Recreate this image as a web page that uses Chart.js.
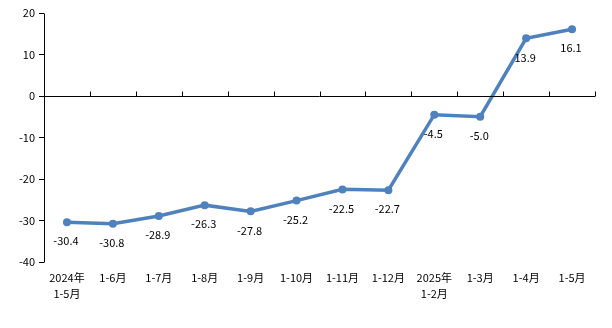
<!DOCTYPE html>
<html>
<head>
<meta charset="utf-8">
<script src="https://cdn.jsdelivr.net/npm/chart.js@4/dist/chart.umd.min.js"></script>
<style>
  html, body { margin: 0; padding: 0; background: #fff; }
  #wrap { width: 612px; height: 328px; }
</style>
</head>
<body>
<div id="wrap"><canvas id="growthChart"></canvas></div>
<script>
  'use strict'

  const months = [
    ['2024年', '1-5月'], '1-6月', '1-7月', '1-8月', '1-9月', '1-10月',
    '1-11月', '1-12月', ['2025年', '1-2月'], '1-3月', '1-4月', '1-5月'
  ]
  const growth = [-30.4, -30.8, -28.9, -26.3, -27.8, -25.2, -22.5, -22.7, -4.5, -5.0, 13.9, 16.1]
  const yTicks = [20, 10, 0, -10, -20, -30, -40]

  const FONT = '"Noto Sans CJK SC", "Noto Sans", sans-serif'

  // y axis line, zero line with upward ticks between categories, value labels
  const extras = {
    id: 'extras',
    afterDatasetsDraw (chart) {
      const { ctx, scales: { x, y } } = chart
      const y0 = Math.round(y.getPixelForValue(0)) + 0.5
      const yTop = Math.round(y.getPixelForValue(20)) + 0.5
      const yBot = Math.round(y.getPixelForValue(-40)) + 0.5
      const xl = Math.round(x.left) + 0.5
      ctx.save()
      ctx.lineWidth = 1
      ctx.strokeStyle = '#000'
      ctx.beginPath()
      ctx.moveTo(xl, yTop)
      ctx.lineTo(xl, yBot)
      ctx.stroke()
      ctx.beginPath()
      ctx.moveTo(x.left, y0)
      ctx.lineTo(x.right, y0)
      for (let i = 1; i <= months.length; i++) {
        const px = Math.round(x.getPixelForValue(i - 0.5)) + 0.5
        ctx.moveTo(px, y0)
        ctx.lineTo(px, y0 - 5)
      }
      ctx.stroke()

      const meta = chart.getDatasetMeta(0)
      ctx.fillStyle = '#000'
      ctx.font = '11px ' + FONT
      ctx.textAlign = 'center'
      ctx.textBaseline = 'middle'
      meta.data.forEach((pt, i) => {
        ctx.fillText(growth[i].toFixed(1), pt.x - 1, pt.y + 19)
      })
      ctx.restore()
    }
  }

  new Chart(document.getElementById('growthChart'), {
    type: 'line',
    data: {
      labels: months,
      datasets: [{
        data: growth,
        borderColor: '#4f81bd',
        backgroundColor: '#4f81bd',
        borderWidth: 3.5,
        pointRadius: 4,
        pointBackgroundColor: '#4f81bd',
        pointBorderWidth: 0,
        tension: 0
      }]
    },
    options: {
      responsive: true,
      maintainAspectRatio: false,
      animation: false,
      layout: { padding: { top: 13, right: 17, bottom: 0, left: 0 } },
      plugins: {
        legend: { display: false },
        tooltip: { enabled: false }
      },
      scales: {
        x: {
          offset: true,
          grid: { display: false },
          border: { display: false },
          ticks: {
            color: '#000',
            font: { family: FONT, size: 11, lineHeight: 1.45 },
            maxRotation: 0,
            autoSkip: false,
            padding: 0
          },
          afterFit (s) { s.height = 66 }
        },
        y: {
          min: -40,
          max: 20,
          afterBuildTicks (s) { s.ticks = yTicks.map(v => ({ value: v })) },
          grid: {
            drawOnChartArea: false,
            drawTicks: true,
            tickLength: 5,
            color: '#000'
          },
          border: { display: false },
          ticks: {
            color: '#000',
            font: { family: FONT, size: 11 },
            padding: 4
          },
          afterFit (s) { s.width = 44 }
        }
      }
    },
    plugins: [extras]
  })
</script>
</body>
</html>
